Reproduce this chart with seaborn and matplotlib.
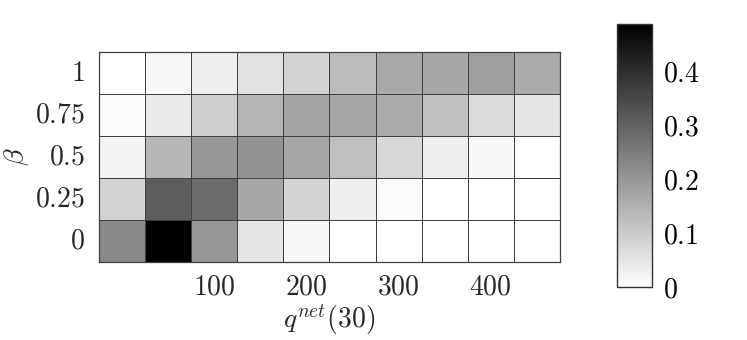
import numpy as np
import pandas as pd
import matplotlib
matplotlib.use("Agg")
import matplotlib.pyplot as plt
import seaborn as sns

sns.set_style("white")
plt.rcParams['mathtext.fontset'] = 'cm'
plt.rcParams['font.family'] = ['DejaVu Serif']

# Data (rows: beta from top to bottom; columns: 10 q^net bins)
beta_labels = ["1", "0.75", "0.5", "0.25", "0"]
q_positions = [0, 50, 100, 150, 200, 250, 300, 350, 400, 450]
row_b1   = [0.000, 0.015, 0.032, 0.058, 0.085, 0.128, 0.164, 0.169, 0.183, 0.160]
row_b075 = [0.009, 0.040, 0.094, 0.141, 0.173, 0.169, 0.160, 0.119, 0.070, 0.051]
row_b05  = [0.024, 0.137, 0.198, 0.207, 0.169, 0.122, 0.075, 0.034, 0.017, 0.000]
row_b025 = [0.085, 0.310, 0.282, 0.169, 0.085, 0.032, 0.009, 0.000, 0.000, 0.000]
row_b0   = [0.226, 0.487, 0.198, 0.051, 0.017, 0.000, 0.000, 0.000, 0.000, 0.000]
x_tick_values = [100, 200, 300, 400]
cbar_ticks = [0, 0.1, 0.2, 0.3, 0.4]

df = pd.DataFrame([row_b1, row_b075, row_b05, row_b025, row_b0],
                  index=beta_labels, columns=q_positions)

fig = plt.figure(figsize=(7.47, 3.40), dpi=100)
ax = fig.add_axes([0.1325, 0.2294, 0.617, 0.6176])
cax = fig.add_axes([0.826, 0.156, 0.047, 0.7735])

sns.heatmap(df, ax=ax, cbar_ax=cax, cmap="gray_r", vmin=0, vmax=0.487,
            linewidths=0.7, linecolor="#404040", square=False)

for s in ax.spines.values():
    s.set_visible(True)
    s.set_color("#404040")
    s.set_linewidth(0.9)

FS = 20
xt = [q_positions.index(v) + 0.5 for v in x_tick_values]
ax.set_xticks(xt)
ax.set_xticklabels([f"${v}$" for v in x_tick_values], fontsize=FS, rotation=0)
ax.set_yticks(np.arange(len(beta_labels)) + 0.5)
ax.set_yticklabels([f"${b}$" for b in beta_labels], fontsize=FS, rotation=0)
ax.tick_params(axis='x', length=0, pad=8)
ax.tick_params(axis='y', length=0, pad=10)
ax.set_xlabel(r"$q^{net}(30)$", fontsize=FS, labelpad=2)
ax.set_ylabel(r"$\beta$", fontsize=FS, labelpad=3)

cax.set_yticks(cbar_ticks)
cax.set_yticklabels([f"${t:g}$" for t in cbar_ticks], fontsize=FS)
cax.tick_params(axis='y', direction='in', length=3, width=0.8, pad=8, colors='black')
cb = ax.collections[0].colorbar
cb.outline.set_visible(True)
cb.outline.set_edgecolor("#333333")
cb.outline.set_linewidth(1.0)

fig.savefig("out.png", dpi=100)
